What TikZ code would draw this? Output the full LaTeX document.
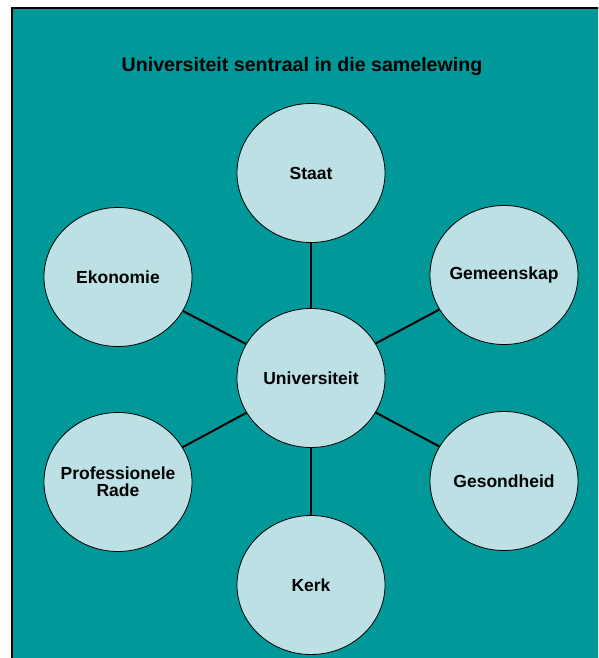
\documentclass[tikz,border=0pt]{standalone}
\usepackage{fontspec}
\setmainfont{Liberation Sans}
\usepackage{tikz}
\usetikzlibrary{shapes.geometric}
\definecolor{uniteal}{RGB}{0, 152, 152}
\definecolor{unicircle}{RGB}{188, 224, 228}

\begin{document}
\begin{tikzpicture}[
    x=1pt, y=-1pt,
    every node/.style={font=\fontsize{17.5}{17}\selectfont\bfseries},
    partner/.style={ellipse, draw=black, line width=0.8pt, fill=unicircle, minimum width=148pt, minimum height=139pt, inner xsep=-25pt, inner ysep=0pt, align=center},
    link/.style={line width=2pt}
]
\useasboundingbox (0,0) rectangle (598,658);
\begin{scope}
\clip (0,0) rectangle (598,658);
\draw[line width=2.5pt, fill=uniteal] (12,8) rectangle (610,670);
\end{scope}

\node[font=\fontsize{19.6}{22}\selectfont\bfseries] (title) at (302,66) {Universiteit sentraal in die samelewing};

\node[partner] (u) at (311,378) {Universiteit};
\node[partner] (st) at (311,173) {Staat};
\node[partner] (ek) at (118,277) {Ekonomie};
\node[partner] (ge) at (504,275) {Gemeenskap};
\node[partner] (pr) at (118,482) {Professionele\\Rade};
\node[partner] (gs) at (504,481) {Gesondheid};
\node[partner] (ke) at (311,585) {Kerk};

\draw[link] (u) -- (st);
\draw[link] (u) -- (ek);
\draw[link] (u) -- (ge);
\draw[link] (u) -- (pr);
\draw[link] (u) -- (gs);
\draw[link] (u) -- (ke);
\end{tikzpicture}
\end{document}
